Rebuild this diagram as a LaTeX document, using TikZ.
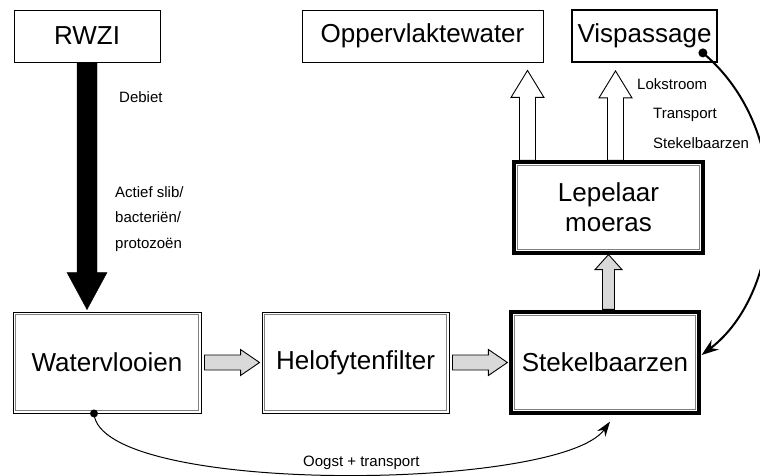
\documentclass[tikz,border=0pt]{standalone}
\usepackage{fontspec}
\setmainfont{Liberation Sans}
\usetikzlibrary{calc,arrows.meta}

% block arrow: [style]{start}{tip}{shaft half width}{head half width}{head length}
\newcommand{\blockarrow}[6][]{%
  \coordinate (ba-s) at (#2);
  \coordinate (ba-t) at (#3);
  \coordinate (ba-h) at ($(ba-t)!#6!(ba-s)$);
  \draw[#1] ($(ba-s)!#4!90:(ba-t)$) -- ($(ba-h)!#4!-90:(ba-s)$)
    -- ($(ba-h)!#5!-90:(ba-s)$) -- (ba-t) -- ($(ba-h)!#5!90:(ba-s)$)
    -- ($(ba-h)!#4!90:(ba-s)$) -- ($(ba-s)!#4!-90:(ba-t)$) -- cycle;}

\begin{document}
\begin{tikzpicture}[x=1pt,y=-1pt,
    plainbox/.style={draw,line width=0.9pt,inner sep=0pt,align=center,
      font=\fontsize{26}{30}\selectfont},
    visbox/.style={plainbox,line width=1.8pt},
    dblbox/.style={plainbox,path picture={
      \draw[gray,line width=1pt]
        ([shift={(2.6pt,2.6pt)}]path picture bounding box.south west) rectangle
        ([shift={(-2.6pt,-2.6pt)}]path picture bounding box.north east);}},
    thickbox/.style={plainbox,line width=3.2pt,path picture={
      \draw[gray,line width=1pt]
        ([shift={(3.8pt,3.8pt)}]path picture bounding box.south west) rectangle
        ([shift={(-3.8pt,-3.8pt)}]path picture bounding box.north east);}},
    lbl/.style={anchor=base west,inner sep=0pt,font=\fontsize{15}{18}\selectfont},
    flow/.style={draw,line width=0.9pt,fill=black!15},
    outflow/.style={draw,line width=0.9pt,fill=white}]
  \useasboundingbox (0,0) rectangle (760,476);

  % top row
  \node[plainbox,minimum width=146pt,minimum height=52pt] (rwzi) at (87,36) {RWZI};
  \node[plainbox,minimum width=241pt,minimum height=52pt] (opp) at (422.5,36) {Oppervlaktewater};
  \node[visbox,minimum width=145pt,minimum height=52pt] (visp) at (644.5,36) {Vispassage};

  % marsh
  \node[thickbox,minimum width=189pt,minimum height=91pt] (lep) at (608.5,207.5) {Lepelaar\\moeras};

  % bottom row
  \node[dblbox,minimum width=188pt,minimum height=101pt] (wv) at (107,362.5) {Watervlooien};
  \node[dblbox,minimum width=187pt,minimum height=101pt] (hf) at (355.5,362.5) {Helofytenfilter};
  \node[thickbox,minimum width=188pt,minimum height=101pt] (sb) at (605,362.5) {Stekelbaarzen};

  % flows
  \blockarrow[fill=black]{rwzi.south}{[yshift=2pt]rwzi.south |- wv.north}{10pt}{20pt}{37pt}
  \blockarrow[flow]{[xshift=3pt]wv.east}{[xshift=-2pt]hf.west}{7.5pt}{13pt}{19pt}
  \blockarrow[flow]{[xshift=3pt]hf.east}{[xshift=-2pt]sb.west}{7.5pt}{13pt}{19pt}
  \blockarrow[flow]{[yshift=1pt]lep.south |- sb.north}{lep.south}{6pt}{13.5pt}{15pt}
  \coordinate (lepl) at ([xshift=-81pt]lep.north);
  \coordinate (lepr) at ([xshift=7pt]lep.north);
  \blockarrow[outflow]{lepl}{[yshift=-8pt]lepl |- opp.south}{8pt}{16.5pt}{27pt}
  \blockarrow[outflow]{lepr}{[yshift=-8pt]lepr |- visp.south}{8pt}{16.5pt}{27pt}

  % return lines
  \coordinate (vdot) at ([shift={(-15,-10)}]visp.south east);
  \fill (vdot) circle (4.5);
  \draw[line width=2pt,-{Stealth[length=17pt,width=12pt]}]
    (vdot) .. controls +(95,80) and +(82,-62) .. ([shift={(1,-7.5)}]sb.east);
  \coordinate (wdot) at ([xshift=-13pt]wv.south);
  \fill (wdot) circle (4);
  \draw[line width=1pt,-{Stealth[length=15pt,width=10pt]}]
    (wdot) .. controls +(6,82) and +(-50,70) .. ([shift={(5,7)}]sb.south);

  % labels
  \node[lbl] (debiet) at (119,103) {Debiet};
  \node[lbl] (slib) at (115,197) {Actief slib/};
  \node[lbl] (bact) at (115,222) {bacteriën/};
  \node[lbl] (proto) at (115,248) {protozoën};
  \node[lbl] (lok) at (637,90) {Lokstroom};
  \node[lbl] (trans) at (653,119) {Transport};
  \node[lbl] (stek) at (653,148) {Stekelbaarzen};
  \node[lbl] (oogst) at (303,466) {Oogst + transport};
\end{tikzpicture}
\end{document}
